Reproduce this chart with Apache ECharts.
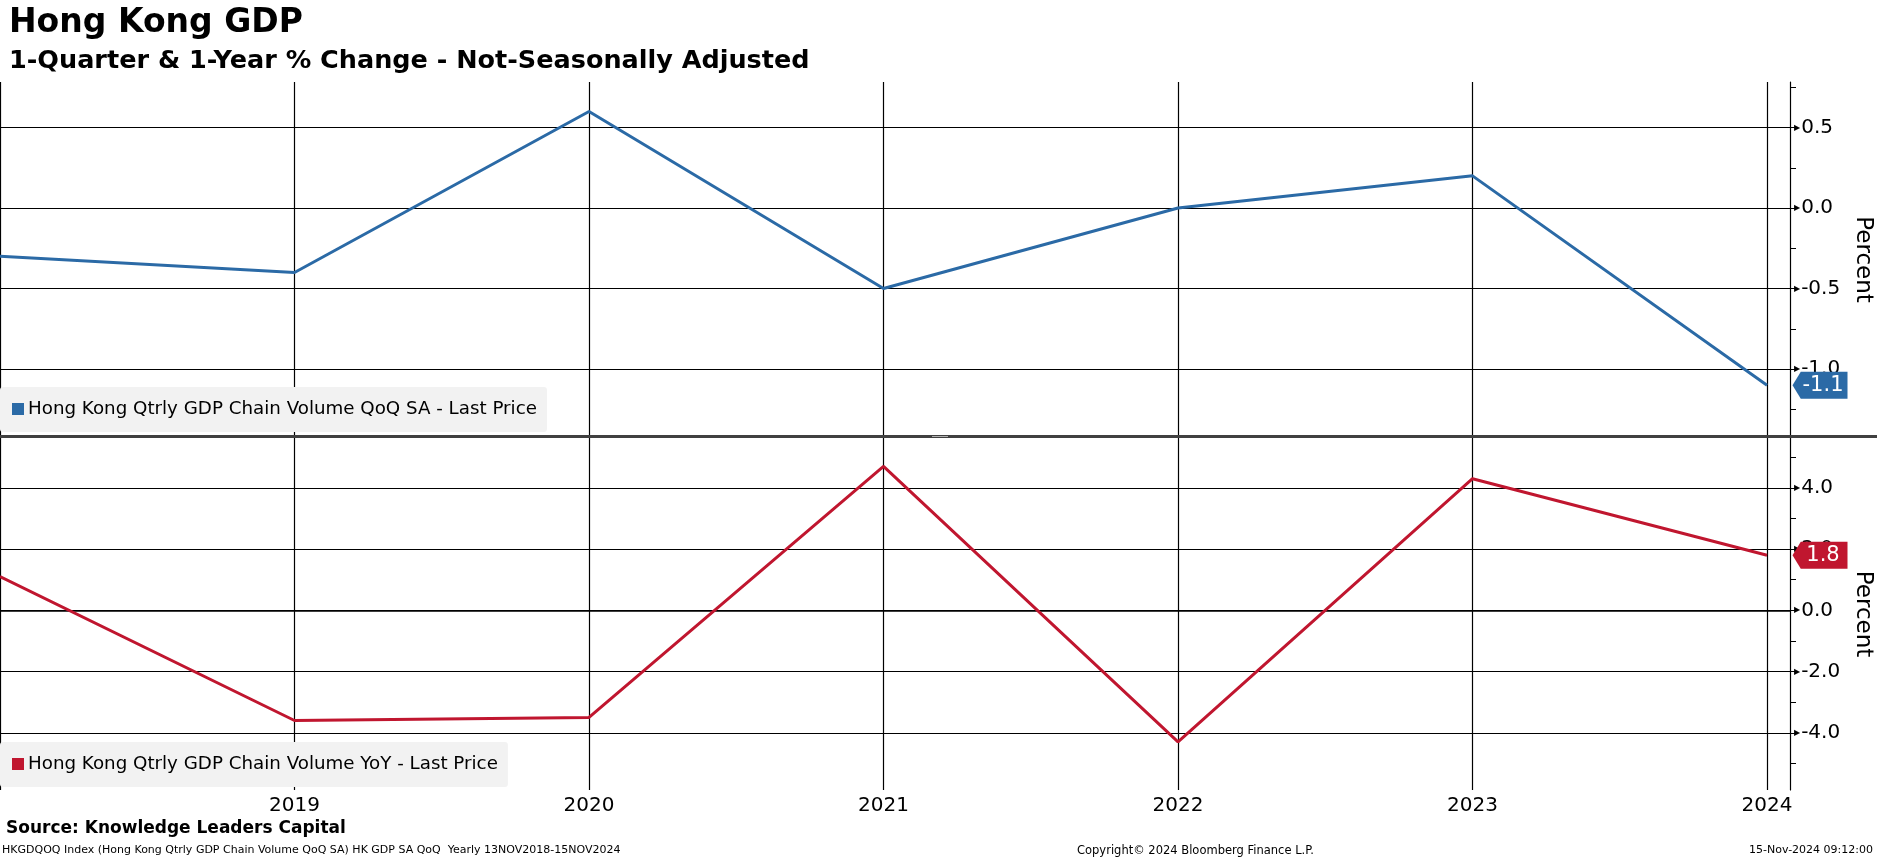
<!DOCTYPE html>
<html>
<head>
<meta charset="utf-8">
<script src="https://cdn.jsdelivr.net/npm/echarts@6/dist/echarts.min.js"></script>
<style>
html,body{margin:0;padding:0;background:#fff;}
#c{width:1877px;height:859px;}
</style>
</head>
<body>
<div id="c"></div>
<script>
// ---- data ----
var years = [2018, 2019, 2020, 2021, 2022, 2023, 2024];
var xLabels = [2019, 2020, 2021, 2022, 2023, 2024];
var qoq = [-0.3, -0.4, 0.6, -0.5, 0.0, 0.2, -1.1];
var yoy = [1.1, -3.6, -3.5, 4.7, -4.3, 4.3, 1.8];
var qoqTicks = [0.5, 0.0, -0.5, -1.0];
var qoqMinor = [0.75, 0.25, -0.25, -0.75, -1.25];
var yoyTicks = [4.0, 2.0, 0.0, -2.0, -4.0];
var yoyMinor = [5, 3, 1, -1, -3, -5];
var qoqName = 'Hong Kong Qtrly GDP Chain Volume QoQ SA - Last Price';
var yoyName = 'Hong Kong Qtrly GDP Chain Volume YoY - Last Price';

var BLUE = '#2b6aa6', RED = '#c0162f';
var F = "'DejaVu Sans', sans-serif";

function pairs(xs, ys) { return xs.map(function (x, i) { return [x, ys[i]]; }); }

var chart = echarts.init(document.getElementById('c'), null, {renderer: 'canvas'});

function xAxisDef(gridIndex, showLabels) {
  return {
    type: 'value', gridIndex: gridIndex, min: 2018, max: 2024.078,
    axisLine: {show: showLabels, lineStyle: {color: '#000', width: 1.5}},
    axisTick: {show: showLabels, customValues: years, length: 4, lineStyle: {color: '#000'}},
    axisLabel: {show: showLabels, customValues: xLabels, formatter: function (v) { return String(Math.round(v)); },
      fontFamily: F, fontSize: 20, color: '#000', margin: 6},
    splitLine: {show: true, lineStyle: {color: '#000', width: 1.2}}
  };
}
function yMajor(gridIndex, min, max, ticks) {
  return {
    type: 'value', gridIndex: gridIndex, position: 'right', min: min, max: max,
    name: 'Percent', nameLocation: 'middle', nameRotate: -90, nameGap: 57,
    nameTextStyle: {fontFamily: F, fontSize: 23, color: '#000'},
    axisLine: {show: true, lineStyle: {color: '#000', width: 1.2}},
    axisTick: {show: true, customValues: ticks, length: 6, lineStyle: {color: '#000'}},
    axisLabel: {show: true, customValues: ticks, margin: 4,
      formatter: function (v) { return '{t|\u25B6}{v|' + v.toFixed(1) + '}'; },
      rich: {t: {fontSize: 8, color: '#000', fontFamily: F, padding: [0, 1, 0, 0]}, v: {fontSize: 20, color: '#000', fontFamily: F}}},
    splitLine: {show: true, lineStyle: {color: '#000', width: 1.2}}
  };
}
function yMinor(gridIndex, min, max, ticks) {
  return {
    type: 'value', gridIndex: gridIndex, position: 'right', min: min, max: max,
    axisLine: {show: false},
    axisTick: {show: true, customValues: ticks, length: 6, lineStyle: {color: '#000'}},
    axisLabel: {show: false},
    splitLine: {show: false}
  };
}
function tag(x, y, color) {
  return {
    symbol: 'path://M0,12 L9,0 L60,0 L60,24 L9,24 Z',
    symbolSize: [55, 27], symbolOffset: [53, 0], silent: true,
    itemStyle: {color: color},
    label: {show: true, position: 'inside', color: '#fff', fontFamily: F, fontSize: 21, offset: [3, 0],
      formatter: function (p) { return p.value.toFixed(1); }},
    data: [{coord: [x, y], value: y}]
  };
}

var option = {
  backgroundColor: '#fff',
  animation: false,
  title: [
    {text: 'Hong Kong GDP', left: 4, top: 2, textStyle: {fontFamily: F, fontWeight: 'bold', fontSize: 33, color: '#000'}},
    {text: '1-Quarter & 1-Year % Change - Not-Seasonally Adjusted', left: 4, top: 43, textStyle: {fontFamily: F, fontWeight: 'bold', fontSize: 25.5, color: '#000'}}
  ],
  legend: [
    {data: [qoqName], left: 0, top: 387, orient: 'horizontal', backgroundColor: '#f2f2f2', borderRadius: 3,
      padding: [13, 10, 14, 12], itemWidth: 12, itemHeight: 12, icon: 'rect', itemGap: 4,
      textStyle: {fontFamily: F, fontSize: 18.25, color: '#000', padding: [0, 0, 0, -1]}, selectedMode: false},
    {data: [yoyName], left: 0, top: 742, orient: 'horizontal', backgroundColor: '#f2f2f2', borderRadius: 3,
      padding: [13, 10, 14, 12], itemWidth: 12, itemHeight: 12, icon: 'rect', itemGap: 4,
      textStyle: {fontFamily: F, fontSize: 18.25, color: '#000', padding: [0, 0, 0, -1]}, selectedMode: false}
  ],
  grid: [
    {left: 0, right: 87, top: 82, height: 355, containLabel: false, outerBoundsMode: 'none'},
    {left: 0, right: 87, top: 438, height: 352, containLabel: false, outerBoundsMode: 'none'}
  ],
  xAxis: [xAxisDef(0, false), xAxisDef(1, true)],
  yAxis: [
    yMajor(0, -1.422, 0.783, qoqTicks),
    yMinor(0, -1.422, 0.783, qoqMinor),
    yMajor(1, -5.87, 5.63, yoyTicks),
    yMinor(1, -5.87, 5.63, yoyMinor)
  ],
  series: [
    {name: qoqName, type: 'line', xAxisIndex: 0, yAxisIndex: 0, data: pairs(years, qoq),
      showSymbol: false, symbol: 'none', lineStyle: {color: BLUE, width: 3}, itemStyle: {color: BLUE},
      markPoint: tag(years[years.length - 1], qoq[qoq.length - 1], BLUE)},
    {name: yoyName, type: 'line', xAxisIndex: 1, yAxisIndex: 2, data: pairs(years, yoy),
      showSymbol: false, symbol: 'none', lineStyle: {color: RED, width: 3}, itemStyle: {color: RED},
      markPoint: tag(years[years.length - 1], yoy[yoy.length - 1], RED)}
  ],
  graphic: [
    {type: 'rect', left: 0, top: 435, shape: {width: 1877, height: 3}, style: {fill: '#404040'}, z: 100},
    {type: 'rect', left: 932, top: 436, shape: {width: 16, height: 1}, style: {fill: '#b0b0b0'}, z: 101},
    {type: 'text', left: 6, top: 820, style: {text: 'Source: Knowledge Leaders Capital', font: "bold 17px 'DejaVu Sans', sans-serif", fill: '#000'}},
    {type: 'text', left: 2, top: 845, style: {text: 'HKGDQOQ Index (Hong Kong Qtrly GDP Chain Volume QoQ SA) HK GDP SA QoQ  Yearly 13NOV2018-15NOV2024', font: "11px 'DejaVu Sans', sans-serif", fill: '#000'}},
    {type: 'text', left: 1077, top: 845, style: {text: 'Copyright\u00A9 2024 Bloomberg Finance L.P.', font: "11.5px 'DejaVu Sans', sans-serif", fill: '#000'}},
    {type: 'text', right: 4, top: 845, style: {text: '15-Nov-2024 09:12:00', font: "11px 'DejaVu Sans', sans-serif", fill: '#000'}}
  ]
};
chart.setOption(option);
</script>
</body>
</html>
